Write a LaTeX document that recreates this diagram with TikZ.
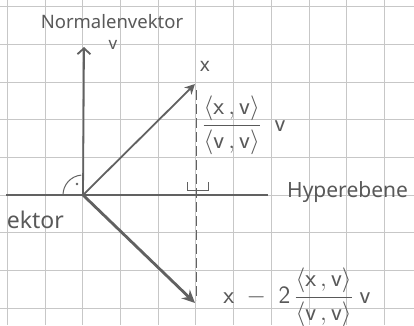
\documentclass[tikz,border=0pt]{standalone}
\usepackage{fontspec}
\setmainfont{Noto Sans}
\usetikzlibrary{arrows.meta}
\begin{document}
\begin{tikzpicture}[x=1pt,y=-1pt,
  gridline/.style={draw=black!22, line width=0.9pt},
  vec/.style={draw=black!62, line width=1.8pt},
  lbl/.style={text=black!65, inner sep=0pt},
  guide/.style={draw=black!62, line width=1pt},
]
\useasboundingbox (0,0) rectangle (414,325);
\clip (0,0) rectangle (414,325);
\fill[white] (0,0) rectangle (414,325);
\foreach \i in {0,...,10} \draw[gridline] ({7.4+37.7*\i},0) -- ({7.4+37.7*\i},325);
\foreach \j in {0,...,8} \draw[gridline] (0,{6.7+37.7*\j}) -- (414,{6.7+37.7*\j});

\coordinate (O) at (83,195);
\coordinate (V) at (84,47);
\coordinate (X) at (195,84);
\coordinate (R) at (195,303);
\coordinate (D1) at (196,90);
\coordinate (D2) at (196,300);
\coordinate (HL) at (6,195);
\coordinate (HR) at (268,195);

% hyperplane
\draw[vec] (HL) -- (HR);
% dashed projection line
\draw[guide, dash pattern=on 10pt off 4pt] (D1) -- (D2);
% vectors
\draw[vec,-{Straight Barb[length=6pt,width=13pt]}] (O) -- (V);
\draw[vec,-{Stealth[length=10pt,width=10pt,inset=3pt]}] (O) -- (X);
\draw[vec, line width=2.8pt, -{Stealth[length=13pt,width=12pt]}] (O) -- (R);

% right-angle marks
\draw[guide] (O) ++(-20,0) arc[start angle=180, end angle=265, radius=20];
\fill[black!62] (77,184) circle[radius=1.3];
\draw[guide] (187,182) -- (187,190) -- (208,190) -- (208,182);

% labels
\node[lbl, font=\fontsize{18.5}{18.5}\selectfont] (nv) at (112,22) {Normalenvektor};
\node[lbl, font=\fontsize{17}{17}\selectfont] (vl) at (113,45) {v};
\node[lbl, font=\fontsize{19}{19}\selectfont] (xl) at (205,66) {x};
\node[lbl, font=\fontsize{25}{25}\selectfont] (pl) at (244,125)
  {$\displaystyle\frac{\langle \mathsf{x}\,,\mathsf{v}\rangle}{\langle \mathsf{v}\,,\mathsf{v}\rangle}\;\;\mathsf{v}$};
\node[lbl, font=\fontsize{25}{25}\selectfont] (rl) at (297,297)
  {$\displaystyle\mathsf{x}\;-\;\mathsf{2}\,\frac{\langle \mathsf{x}\,,\mathsf{v}\rangle}{\langle \mathsf{v}\,,\mathsf{v}\rangle}\;\mathsf{v}$};
\node[lbl, font=\fontsize{21}{21}\selectfont, anchor=west] (hl) at (287,192) {Hyperebene};
\node[lbl, font=\fontsize{23}{23}\selectfont, anchor=east] (el) at (64,220) {ektor};
\end{tikzpicture}
\end{document}
